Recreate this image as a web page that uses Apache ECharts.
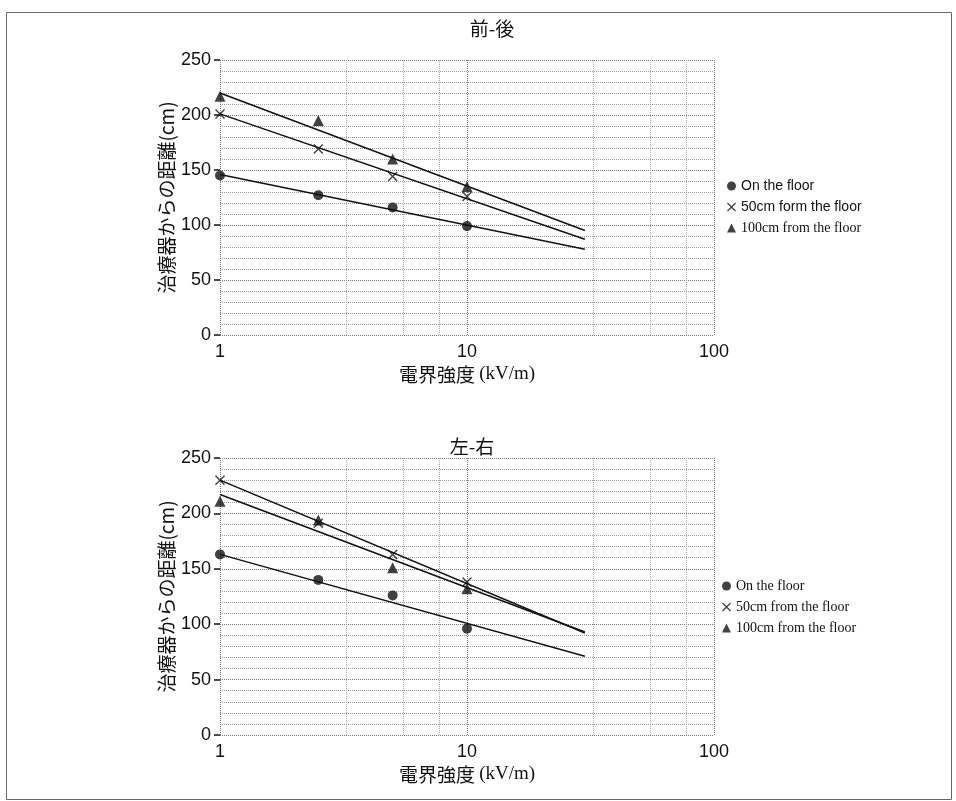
<!DOCTYPE html>
<html>
<head>
<meta charset="utf-8">
<script src="https://cdn.jsdelivr.net/npm/echarts@6/dist/echarts.min.js"></script>
<style>html,body{margin:0;padding:0;background:#fff}#c{width:956px;height:801px}</style>
</head>
<body>
<div id="c"></div>
<script>
// ---- data ----
const xValues = [1, 2.5, 5, 10];
const fitX = [1, 30];
const xTicks = [1, 10, 100];
const yTicks = [0, 50, 100, 150, 200, 250];

const titles = ['前-後', '左-右'];
const seriesNames = [
  ['On the floor', '50cm form the floor', '100cm from the floor'],
  ['On the floor', '50cm from the floor', '100cm from the floor']
];

// 前-後 (top)
const fbFloor = [145, 127, 116, 99];
const fb50 = [201, 169, 144, 126];
const fb100 = [217, 195, 160, 135];
const fbFloorFit = [146, 78];
const fb50Fit = [201, 87];
const fb100Fit = [220, 95];

// 左-右 (bottom)
const lrFloor = [163, 140, 126, 96];
const lr50 = [230, 191, 163, 138];
const lr100 = [211, 194, 151, 132];
const lrFloorFit = [163, 71];
const lr50Fit = [230, 92];
const lr100Fit = [217, 93];

// ---- chart ----
const SANS = '"Liberation Sans", Arial, sans-serif';
const SERIF = '"Liberation Serif", "Times New Roman", serif';
const CJK = '"Noto Sans CJK JP", sans-serif';
const INK = '#111';
const crossPath = 'path://M0,1L1,0L5,4L9,0L10,1L6,5L10,9L9,10L5,6L1,10L0,9L4,5Z';
const symbols = ['circle', crossPath, 'triangle'];
const symSizes = [10, 10, 11];

const pair = (xs, ys) => xs.map((x, i) => [x, ys[i]]);

const panels = [
  { top: 60, height: 275, pts: [fbFloor, fb50, fb100], fits: [fbFloorFit, fb50Fit, fb100Fit] },
  { top: 458, height: 277, pts: [lrFloor, lr50, lr100], fits: [lrFloorFit, lr50Fit, lr100Fit] }
];

const grid = [], xAxis = [], yAxis = [], series = [], legend = [], title = [];
panels.forEach((p, k) => {
  grid.push({ left: 220, right: 242, top: p.top, height: p.height });
  xAxis.push({
    type: 'log', logBase: 10, min: xTicks[0], max: xTicks[xTicks.length - 1], gridIndex: k,
    name: '{a|電界強度 }{b|(kV/m)}', nameLocation: 'middle', nameGap: 30,
    nameTextStyle: { rich: { a: { fontFamily: CJK, fontSize: 19, color: INK }, b: { fontFamily: SERIF, fontSize: 19, color: INK } } },
    axisLine: { show: false }, axisTick: { show: false },
    axisLabel: { fontFamily: SANS, fontSize: 18, color: INK, margin: 8 },
    splitLine: { show: true, lineStyle: { color: '#777', type: 'dotted', width: 1 } },
    minorTick: { show: false, splitNumber: 4 },
    minorSplitLine: { show: true, lineStyle: { color: '#aaa', type: 'dotted', width: 1 } }
  });
  yAxis.push({
    type: 'value', min: yTicks[0], max: yTicks[yTicks.length - 1], interval: 50, gridIndex: k,
    name: '治療器からの距離(cm)', nameLocation: 'middle', nameGap: 44, nameMoveOverlap: false,
    nameTextStyle: { fontFamily: CJK, fontSize: 19, color: INK },
    axisLine: { show: false },
    axisTick: { show: true, length: 6, lineStyle: { color: INK, width: 1.5 } },
    axisLabel: { fontFamily: SANS, fontSize: 18, color: INK, margin: 9 },
    splitLine: { show: true, lineStyle: { color: '#777', type: 'dotted', width: 1 } },
    minorTick: { show: false, splitNumber: 5 },
    minorSplitLine: { show: true, lineStyle: { color: '#999', type: 'dotted', width: 1 } }
  });
  title.push({
    text: titles[k], left: k === 0 ? 487 : 467, textAlign: 'center', top: k === 0 ? 14 : 432,
    textStyle: { fontFamily: CJK, fontSize: 19, fontWeight: 'normal', color: INK }
  });
  p.pts.forEach((ys, j) => {
    series.push({
      name: seriesNames[k][j], type: 'scatter', xAxisIndex: k, yAxisIndex: k,
      symbol: symbols[j], symbolSize: symSizes[j],
      itemStyle: { color: INK }, data: pair(xValues, ys), z: 3
    });
  });
  p.fits.forEach((ys) => {
    series.push({
      type: 'line', xAxisIndex: k, yAxisIndex: k, showSymbol: false, symbol: 'none',
      lineStyle: { color: INK, width: 1.5 }, data: pair(fitX, ys), z: 2, silent: true
    });
  });
  const legFonts = k === 0 ? [SANS, SANS, SERIF] : [SERIF, SERIF, SERIF];
  legend.push({
    orient: 'vertical', left: k === 0 ? 722 : 717, top: k === 0 ? 174 : 574,
    itemWidth: 9, itemHeight: 9, itemGap: 7,
    textStyle: { fontSize: 14, color: INK },
    data: seriesNames[k].map((n, j) => ({ name: n, icon: symbols[j], textStyle: { fontFamily: legFonts[j], fontSize: 14, color: INK } }))
  });
});

const chart = echarts.init(document.getElementById('c'), null, { renderer: 'canvas' });
chart.setOption({
  animation: false,
  backgroundColor: '#fff',
  title, grid, xAxis, yAxis, series, legend,
  graphic: [{
    type: 'rect', left: 4, top: 10, shape: { width: 945, height: 787 },
    style: { fill: 'none', stroke: '#666', lineWidth: 1 }, silent: true
  }]
});
</script>
</body>
</html>
